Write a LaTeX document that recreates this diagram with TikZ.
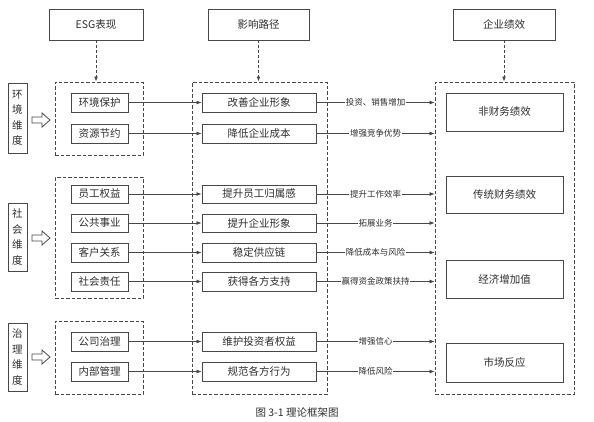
\documentclass[tikz,border=0pt]{standalone}
\usepackage{fontspec}
\newfontfamily\cjk{Noto Sans CJK SC}
\usetikzlibrary{arrows.meta}
\definecolor{lc}{HTML}{474747}
\definecolor{tc}{HTML}{2E2E2E}
\tikzset{
 box/.style={draw=lc, line width=0.9pt, text=tc, font=\cjk\fontsize{10.5}{12}\selectfont, inner sep=0pt},
 dbox/.style={draw=lc, line width=0.9pt, dash pattern=on 3.5pt off 2pt, inner sep=0pt},
 flow/.style={draw=lc, line width=0.7pt, -{Latex[length=5pt,width=4pt]}},
 dflow/.style={draw=lc, line width=0.9pt, dash pattern=on 3pt off 2pt, -{Latex[length=5pt,width=4pt]}},
 lab/.style={fill=white, text=tc, font=\cjk\fontsize{8.5}{10}\selectfont, inner sep=0.6pt},
 vlab/.style={box, align=center, font=\cjk\fontsize{10.5}{15.5}\selectfont},
 hollow/.style={draw=lc, line width=0.8pt, line join=miter}
}
\newcommand\mybox[7][box]{%
 \node[#1, minimum width={(#4-#2)*1pt}, minimum height={(#5-#3)*1pt}] (#6) at ({(#2+#4)/2},{(#3+#5)/2}) {#7};}
\newcommand\hollowarrow[2]{%
 \draw[hollow] (#1,#2-3) -- (#1+10,#2-3) -- (#1+10,#2-7) -- (#1+18,#2) -- (#1+10,#2+7) -- (#1+10,#2+3) -- (#1,#2+3) -- cycle;}
\begin{document}
\begin{tikzpicture}[x=1pt,y=-1pt]
\useasboundingbox (0,0) rectangle (594,421);
% headers
\mybox{49}{9}{143}{40}{h1}{ESG表现}
\mybox{208}{9}{309}{40}{h2}{影响路径}
\mybox{453}{9}{555}{40}{h3}{企业绩效}
% dashed containers
\mybox[dbox]{55}{82}{143}{155}{ce}{}
\mybox[dbox]{55}{177}{143}{298}{cs}{}
\mybox[dbox]{55}{321}{143}{394}{cg}{}
\mybox[dbox]{192}{82}{327}{394}{cm}{}
\mybox[dbox]{435}{82}{574}{394}{cr}{}
% header arrows
\draw[dflow] (h1.south) -- (h1.south |- ce.north);
\draw[dflow] (h2.south) -- (h2.south |- cm.north);
\draw[dflow] (h3.south) -- (h3.south |- cr.north);
% dimension labels
\mybox[vlab]{8}{83}{27}{153}{de}{环\\境\\维\\度}
\mybox[vlab]{8}{203}{27}{271}{ds}{社\\会\\维\\度}
\mybox[vlab]{8}{323}{27}{391}{dg}{治\\理\\维\\度}
\hollowarrow{32}{120}
\hollowarrow{32}{238}
\hollowarrow{32}{357}
% ESG items
\mybox{71}{93}{128}{112}{l1}{环境保护}
\mybox{71}{124}{128}{143}{l2}{资源节约}
\mybox{71}{185}{128}{203}{l3}{员工权益}
\mybox{71}{214}{128}{232}{l4}{公共事业}
\mybox{71}{243}{128}{262}{l5}{客户关系}
\mybox{71}{272}{128}{291}{l6}{社会责任}
\mybox{71}{332}{128}{351}{l7}{公司治理}
\mybox{71}{362}{128}{381}{l8}{内部管理}
% path items
\mybox{202}{93}{316}{112}{m1}{改善企业形象}
\mybox{202}{124}{316}{143}{m2}{降低企业成本}
\mybox{202}{185}{316}{203}{m3}{提升员工归属感}
\mybox{202}{214}{316}{232}{m4}{提升企业形象}
\mybox{202}{243}{316}{262}{m5}{稳定供应链}
\mybox{202}{272}{316}{291}{m6}{获得各方支持}
\mybox{202}{332}{316}{351}{m7}{维护投资者权益}
\mybox{202}{362}{316}{381}{m8}{规范各方行为}
% performance items
\mybox{446}{93}{563}{131}{r1}{非财务绩效}
\mybox{446}{176}{563}{213}{r2}{传统财务绩效}
\mybox{446}{260}{563}{298}{r3}{经济增加值}
\mybox{446}{343}{563}{382}{r4}{市场反应}
% left to middle
\foreach \i in {1,...,8} {\draw[flow] (l\i.east) -- (m\i.west);}
% middle to right
\draw[flow] (m1.east) -- node[lab]{投资、销售增加} (m1.east -| cr.west);
\draw[flow] (m2.east) -- node[lab]{增强竞争优势} (m2.east -| cr.west);
\draw[flow] (m3.east) -- node[lab]{提升工作效率} (m3.east -| cr.west);
\draw[flow] (m4.east) -- node[lab]{拓展业务} (m4.east -| cr.west);
\draw[flow] (m5.east) -- node[lab]{降低成本与风险} (m5.east -| cr.west);
\draw[flow] (m6.east) -- node[lab]{赢得资金政策扶持} (m6.east -| cr.west);
\draw[flow] (m7.east) -- node[lab]{增强信心} (m7.east -| cr.west);
\draw[flow] (m8.east) -- node[lab]{降低风险} (m8.east -| cr.west);
% caption
\node[text=tc, font=\cjk\fontsize{10.5}{12}\selectfont] (cap) at (297,412) {图 3-1 理论框架图};
\end{tikzpicture}
\end{document}
